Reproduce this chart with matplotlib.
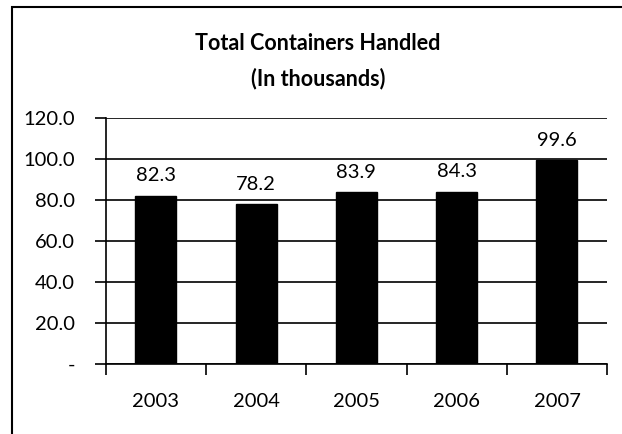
import numpy as np
import matplotlib.pyplot as plt
from matplotlib.patches import Rectangle

# Containers handled per year, in thousands
years = ['2003', '2004', '2005', '2006', '2007']
containers = [82.3, 78.2, 83.9, 84.3, 99.6]
y_ticks = [0, 20, 40, 60, 80, 100, 120]
y_tick_labels = ['-', '20.0', '40.0', '60.0', '80.0', '100.0', '120.0']

plt.rcParams['font.family'] = ['Lato', 'DejaVu Sans']

fig = plt.figure(figsize=(6.22, 4.34), dpi=100)
ax = fig.add_axes([0.170, 0.161, 0.806, 0.566])

# outer chart frame (only left and top edges fall inside the image)
fig.patches.append(Rectangle((12 / 622, -0.1), 1.2, (434 - 7) / 434 + 0.1,
                             transform=fig.transFigure, fill=False,
                             edgecolor='black', linewidth=1.5))

x = np.arange(len(years))
bars = ax.bar(x, containers, width=0.41, color='black', edgecolor='black', zorder=3)

for xi, v in zip(x, containers):
    ax.text(xi, v + 5.5, f'{v:.1f}', ha='center', va='bottom', fontsize=14.5)

ax.set_xlim(-0.5, len(years) - 0.5)
ax.set_ylim(0, 120)
ax.set_yticks(y_ticks)
ax.set_yticklabels(y_tick_labels, fontsize=14.5)
ax.yaxis.grid(True, color='black', linewidth=1.2)
ax.set_axisbelow(True)

# category labels centred, tick marks at the boundaries
ax.set_xticks(x)
ax.set_xticklabels(years, fontsize=14.5)
ax.tick_params(axis='x', which='major', length=0, pad=21)
ax.set_xticks(np.arange(len(years) + 1) - 0.5, minor=True)
ax.tick_params(axis='x', which='minor', length=8, width=1.2, direction='out')
ax.tick_params(axis='y', length=8, width=1.2, direction='out', pad=14)

for side in ['top', 'right']:
    ax.spines[side].set_visible(False)
ax.spines['left'].set_linewidth(1.2)
ax.spines['bottom'].set_linewidth(1.2)

fig.text(318 / 622, 1 - 43 / 434, 'Total Containers Handled', ha='center',
         va='center', fontsize=15.5, fontweight='bold')
fig.text(318 / 622, 1 - 79 / 434, '(In thousands)', ha='center',
         va='center', fontsize=15.5, fontweight='bold')

fig.savefig('out.png', dpi=100)
